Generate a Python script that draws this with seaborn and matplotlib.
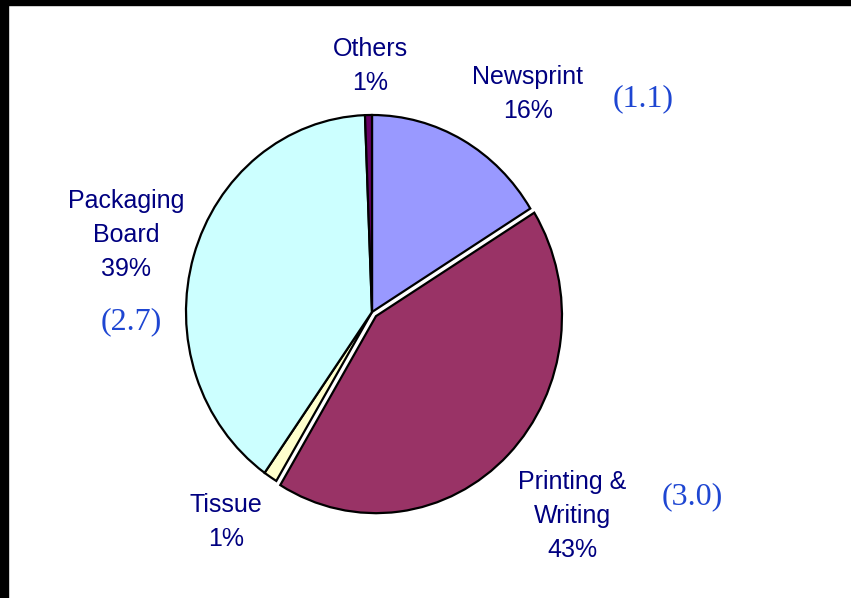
import matplotlib
matplotlib.use("Agg")
import matplotlib.pyplot as plt
from matplotlib.patches import Rectangle
import seaborn as sns

# data (shares in %; labels as printed on the chart)
segments = ["Newsprint", "Printing & Writing", "Tissue", "Packaging Board", "Others"]
shares = [16.2, 42.4, 1.2, 39.6, 0.6]
share_labels = ["16%", "43%", "1%", "39%", "1%"]
slice_colors = ["#9999FF", "#993366", "#FFFFCC", "#CCFFFF", "#660066"]
explode = [0, 0.03, 0, 0, 0]
# figures in brackets next to three of the segments
bracket_segments = ["Newsprint", "Printing & Writing", "Packaging Board"]
bracket_values = ["(1.1)", "(3.0)", "(2.7)"]

sns.set_style("white")
plt.rcParams["font.family"] = ["Liberation Sans", "DejaVu Sans"]

W, H = 851, 598
fig = plt.figure(figsize=(W / 100, H / 100), dpi=100)
fig.patch.set_facecolor("white")


def px(x, y):
    return x / W, 1 - y / H


# pie is slightly taller than wide: rx 186px, ry 197px, centre (372, 312)
cx, cy, rx, ry, lim = 372, 312, 186, 197, 1.3
ax = fig.add_axes([(cx - lim * rx) / W, (H - cy - lim * ry) / H,
                   2 * lim * rx / W, 2 * lim * ry / H])
ax.pie(shares, colors=slice_colors, explode=explode, startangle=90,
       counterclock=False, radius=1,
       wedgeprops=dict(edgecolor="black", linewidth=1.6))
ax.set_aspect("auto")
ax.set_xlim(-lim, lim)
ax.set_ylim(-lim, lim)
ax.axis("off")

navy = "#000080"
label_pos = {
    "Newsprint": (528, 94),
    "Printing & Writing": (572, 516),
    "Tissue": (226, 522),
    "Packaging Board": (126, 235),
    "Others": (370, 66),
}
label_text = {
    "Newsprint": "Newsprint",
    "Printing & Writing": "Printing &\nWriting",
    "Tissue": "Tissue",
    "Packaging Board": "Packaging\nBoard",
    "Others": "Others",
}
for seg, lab in zip(segments, share_labels):
    x, y = px(*label_pos[seg])
    fig.text(x, y, label_text[seg] + "\n" + lab, ha="center", va="center",
             color=navy, fontsize=18, linespacing=1.54)

bracket_pos = {
    "Newsprint": (643, 99),
    "Printing & Writing": (692, 497),
    "Packaging Board": (131, 322),
}
for seg, val in zip(bracket_segments, bracket_values):
    x, y = px(*bracket_pos[seg])
    fig.text(x, y, val, ha="center", va="center", color="#1E46D2",
             fontsize=23, family=["Liberation Serif", "DejaVu Serif"])

# black frame strips on top and left
fig.patches.append(Rectangle((0, 1 - 5 / H), 1, 5 / H, transform=fig.transFigure,
                             color="black", zorder=10))
fig.patches.append(Rectangle((0, 0), 8 / W, 1, transform=fig.transFigure,
                             color="black", zorder=10))

fig.savefig("out.png", dpi=100)
